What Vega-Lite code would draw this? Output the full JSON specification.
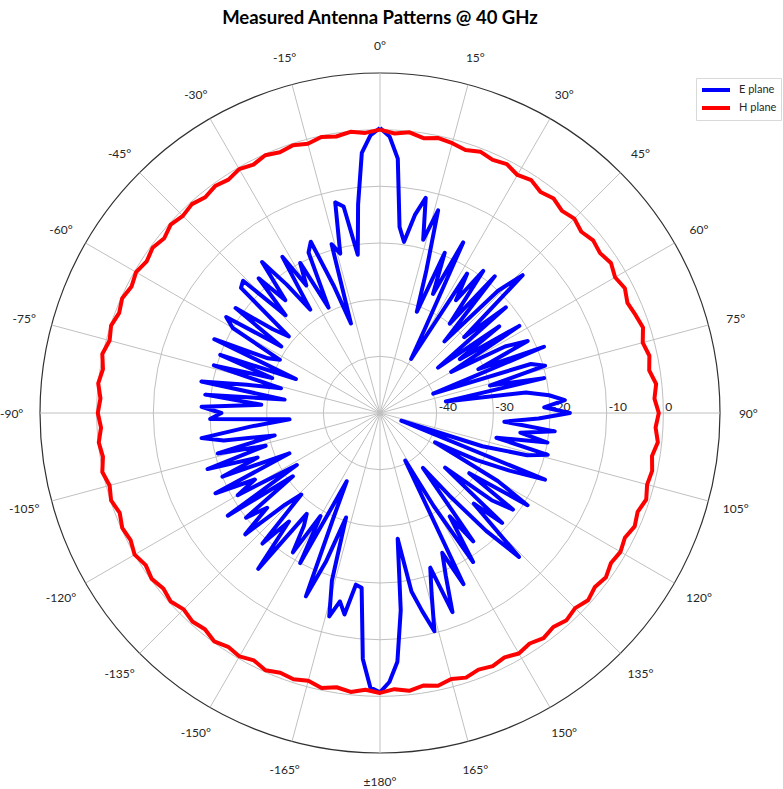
{
  "$schema": "https://vega.github.io/schema/vega-lite/v6.json",
  "width": 748,
  "height": 748,
  "autosize": {"type": "none"},
  "padding": {"left": 6, "top": 39, "right": 29, "bottom": 2},
  "background": "white",
  "title": {"text": "Measured Antenna Patterns @ 40 GHz", "font": "Lato", "fontSize": 18.5, "fontWeight": "bold", "color": "#000000", "offset": 12, "anchor": "middle"},
  "config": {"view": {"stroke": null}},
  "datasets": {
    "E": [
      {"a":0,"db":0.3},{"a":2,"db":-1.2},{"a":4,"db":-5},{"a":6,"db":-17},{"a":8,"db":-19.5},{"a":10,"db":-14.5},{"a":12,"db":-11.2},{"a":14,"db":-18.5},{"a":16,"db":-12.8},{"a":18,"db":-23.5},
      {"a":20,"db":-31},{"a":22,"db":-19.5},{"a":24,"db":-27},{"a":26,"db":-16.5},{"a":28,"db":-33},{"a":30,"db":-39},{"a":32,"db":-21},{"a":34,"db":-26},{"a":36,"db":-19},{"a":38,"db":-30},
      {"a":40,"db":-18.5},{"a":42,"db":-33},{"a":44,"db":-20},{"a":46,"db":-15},{"a":48,"db":-30},{"a":50,"db":-21},{"a":52,"db":-37},{"a":54,"db":-24},{"a":56,"db":-33},{"a":58,"db":-21},
      {"a":60,"db":-35.5},{"a":62,"db":-25},{"a":64,"db":-21},{"a":66,"db":-31},{"a":68,"db":-18.8},{"a":70,"db":-40},{"a":72,"db":-22},{"a":74,"db":-19.7},{"a":76,"db":-30},{"a":78,"db":-20.4},
      {"a":80,"db":-38.2},{"a":82,"db":-24},{"a":84,"db":-20},{"a":86,"db":-17.3},{"a":88,"db":-21},{"a":90,"db":-16.5},{"a":92,"db":-22},{"a":94,"db":-28},{"a":96,"db":-19},{"a":98,"db":-25},
      {"a":100,"db":-20},{"a":102,"db":-29},{"a":104,"db":-19.5},{"a":106,"db":-23},{"a":108,"db":-31},{"a":110,"db":-46},{"a":112,"db":-18.6},{"a":114,"db":-25},{"a":116,"db":-31},{"a":118,"db":-39},
      {"a":120,"db":-26},{"a":122,"db":-19.3},{"a":124,"db":-31},{"a":126,"db":-21},{"a":128,"db":-25},{"a":130,"db":-35},{"a":132,"db":-21},{"a":134,"db":-27},{"a":136,"db":-14.7},{"a":138,"db":-22},
      {"a":140,"db":-31},{"a":142,"db":-37.7},{"a":144,"db":-22},{"a":146,"db":-28},{"a":148,"db":-19},{"a":150,"db":-31},{"a":152,"db":-40.5},{"a":154,"db":-16.4},{"a":156,"db":-23},{"a":158,"db":-19},
      {"a":160,"db":-12.6},{"a":162,"db":-21.3},{"a":164,"db":-17},{"a":166,"db":-10.3},{"a":168,"db":-14.3},{"a":170,"db":-18},{"a":172,"db":-27.6},{"a":174,"db":-15},{"a":176,"db":-6},{"a":178,"db":-2.5},
      {"a":180,"db":-0.7},{"a":182,"db":-1.5},{"a":184,"db":-6.5},{"a":186,"db":-19},{"a":188,"db":-19.4},{"a":190,"db":-13.9},{"a":192,"db":-16},{"a":194,"db":-13},{"a":196,"db":-19.2},{"a":198,"db":-30.6},
      {"a":200,"db":-22},{"a":202,"db":-15.1},{"a":204,"db":-30},{"a":206,"db":-36.6},{"a":208,"db":-20},{"a":210,"db":-29},{"a":212,"db":-21},{"a":214,"db":-26},{"a":216,"db":-28},{"a":218,"db":-15.1},
      {"a":220,"db":-25},{"a":222,"db":-19},{"a":224,"db":-30},{"a":226,"db":-26.7},{"a":228,"db":-18},{"a":230,"db":-24},{"a":232,"db":-20},{"a":234,"db":-31},{"a":236,"db":-17.6},{"a":238,"db":-32.7},
      {"a":240,"db":-21},{"a":242,"db":-25},{"a":244,"db":-17.7},{"a":246,"db":-32.5},{"a":248,"db":-20},{"a":250,"db":-27},{"a":252,"db":-18},{"a":254,"db":-29},{"a":256,"db":-20.5},{"a":258,"db":-31},
      {"a":260,"db":-22},{"a":262,"db":-18.2},{"a":264,"db":-27},{"a":266,"db":-34},{"a":268,"db":-20},{"a":270,"db":-22},{"a":272,"db":-18.5},{"a":274,"db":-29},{"a":276,"db":-19},{"a":278,"db":-33},
      {"a":280,"db":-18},{"a":282,"db":-26},{"a":284,"db":-32},{"a":286,"db":-19.5},{"a":288,"db":-30},{"a":290,"db":-20},{"a":292,"db":-34},{"a":294,"db":-18},{"a":296,"db":-28},{"a":298,"db":-30},
      {"a":300,"db":-20},{"a":302,"db":-18},{"a":304,"db":-29},{"a":306,"db":-18.5},{"a":308,"db":-26},{"a":310,"db":-29},{"a":312,"db":-17},{"a":314,"db":-16.4},{"a":316,"db":-26},{"a":318,"db":-18},
      {"a":320,"db":-24},{"a":322,"db":-16.2},{"a":324,"db":-22},{"a":326,"db":-28},{"a":328,"db":-17.5},{"a":330,"db":-24},{"a":332,"db":-20},{"a":334,"db":-29.3},{"a":336,"db":-19},{"a":338,"db":-17.4},
      {"a":340,"db":-26},{"a":342,"db":-33.4},{"a":344,"db":-19},{"a":346,"db":-21},{"a":348,"db":-12},{"a":350,"db":-13},{"a":352,"db":-21.8},{"a":354,"db":-13},{"a":356,"db":-4},{"a":358,"db":-1},
      {"a":360,"db":0.3}
    ],
    "H": [
      {"a":0,"db":0.0},{"a":3,"db":-0.6},{"a":6,"db":-0.2},{"a":9,"db":-0.9},{"a":12,"db":-0.4},{"a":15,"db":-0.7},{"a":18,"db":-1.2},{"a":21,"db":-0.6},{"a":24,"db":-1.1},{"a":27,"db":-0.7},
      {"a":30,"db":-1.5},{"a":33,"db":-1.0},{"a":36,"db":-1.8},{"a":39,"db":-1.3},{"a":42,"db":-2.0},{"a":45,"db":-1.5},{"a":48,"db":-2.2},{"a":51,"db":-1.6},{"a":54,"db":-2.0},{"a":57,"db":-1.4},
      {"a":60,"db":-2.1},{"a":63,"db":-1.5},{"a":66,"db":-2.2},{"a":69,"db":-1.7},{"a":72,"db":-1.2},{"a":75,"db":-2.0},{"a":78,"db":-1.4},{"a":81,"db":-1.9},{"a":84,"db":-1.0},{"a":87,"db":-1.5},
      {"a":90,"db":-0.8},{"a":93,"db":-1.3},{"a":96,"db":-0.7},{"a":99,"db":-1.4},{"a":102,"db":-0.9},{"a":105,"db":-1.2},{"a":108,"db":-0.6},{"a":111,"db":-1.3},{"a":114,"db":-0.8},{"a":117,"db":-1.5},
      {"a":120,"db":-1.0},{"a":123,"db":-1.4},{"a":126,"db":-0.7},{"a":129,"db":-1.2},{"a":132,"db":-0.6},{"a":135,"db":-1.3},{"a":138,"db":-0.8},{"a":141,"db":-1.4},{"a":144,"db":-0.9},{"a":147,"db":-1.5},
      {"a":150,"db":-1.0},{"a":153,"db":-1.6},{"a":156,"db":-1.1},{"a":159,"db":-1.5},{"a":162,"db":-0.9},{"a":165,"db":-1.4},{"a":168,"db":-0.8},{"a":171,"db":-1.3},{"a":174,"db":-0.7},{"a":177,"db":-1.2},
      {"a":180,"db":-0.6},{"a":183,"db":-1.1},{"a":186,"db":-0.5},{"a":189,"db":-1.0},{"a":192,"db":-0.4},{"a":195,"db":-1.1},{"a":198,"db":-0.6},{"a":201,"db":-0.9},{"a":204,"db":-0.3},{"a":207,"db":-1.0},
      {"a":210,"db":-0.4},{"a":213,"db":-0.8},{"a":216,"db":-0.2},{"a":219,"db":-0.9},{"a":222,"db":-0.5},{"a":225,"db":-1.0},{"a":228,"db":-0.3},{"a":231,"db":-0.8},{"a":234,"db":-0.2},{"a":237,"db":-0.7},
      {"a":240,"db":0.0},{"a":243,"db":-0.6},{"a":246,"db":-0.2},{"a":249,"db":-0.8},{"a":252,"db":-0.1},{"a":255,"db":-0.6},{"a":258,"db":0.1},{"a":261,"db":-0.5},{"a":264,"db":-0.1},{"a":267,"db":-0.7},
      {"a":270,"db":-0.2},{"a":273,"db":-0.6},{"a":276,"db":0.0},{"a":279,"db":-0.5},{"a":282,"db":0.1},{"a":285,"db":-0.6},{"a":288,"db":-0.1},{"a":291,"db":-0.7},{"a":294,"db":-0.2},{"a":297,"db":-0.8},
      {"a":300,"db":-0.3},{"a":303,"db":-0.9},{"a":306,"db":-0.4},{"a":309,"db":-1.0},{"a":312,"db":-0.3},{"a":315,"db":-0.8},{"a":318,"db":-0.4},{"a":321,"db":-1.0},{"a":324,"db":-0.5},{"a":327,"db":-0.9},
      {"a":330,"db":-0.3},{"a":333,"db":-0.8},{"a":336,"db":-0.2},{"a":339,"db":-0.7},{"a":342,"db":-0.3},{"a":345,"db":-0.8},{"a":348,"db":-0.2},{"a":351,"db":-0.6},{"a":354,"db":-0.1},{"a":357,"db":-0.5},
      {"a":360,"db":0.0}
    ],
    "spokes": [
      {"a":0,"lab":"0°"},{"a":15,"lab":"15°"},{"a":30,"lab":"30°"},{"a":45,"lab":"45°"},{"a":60,"lab":"60°"},{"a":75,"lab":"75°"},{"a":90,"lab":"90°"},{"a":105,"lab":"105°"},{"a":120,"lab":"120°"},{"a":135,"lab":"135°"},{"a":150,"lab":"150°"},{"a":165,"lab":"165°"},{"a":180,"lab":"±180°"},
      {"a":-15,"lab":"-15°"},{"a":-30,"lab":"-30°"},{"a":-45,"lab":"-45°"},{"a":-60,"lab":"-60°"},{"a":-75,"lab":"-75°"},{"a":-90,"lab":"-90°"},{"a":-105,"lab":"-105°"},{"a":-120,"lab":"-120°"},{"a":-135,"lab":"-135°"},{"a":-150,"lab":"-150°"},{"a":-165,"lab":"-165°"}
    ],
    "rings": [
      {"db":-40,"lab":"-40","c":0},{"db":-30,"lab":"-30","c":0},{"db":-20,"lab":"-20","c":0},{"db":-10,"lab":"-10","c":0},{"db":0,"lab":"0","c":0}
    ],
    "outer": [{"db":10,"c":0}]
  },
  "layer": [
    {
      "data": {"name": "rings"},
      "transform": [{"calculate": "datum.db + 50", "as": "rr"}],
      "mark": {"type": "point", "shape": "circle", "filled": false, "stroke": "#c0c0c0", "strokeWidth": 1, "opacity": 1},
      "encoding": {
        "x": {"field": "c", "type": "quantitative", "scale": {"domain": [-66, 66], "nice": false, "zero": false}, "axis": null},
        "y": {"field": "c", "type": "quantitative", "scale": {"domain": [-66, 66], "nice": false, "zero": false}, "axis": null},
        "size": {"field": "rr", "type": "quantitative", "scale": {"type": "pow", "exponent": 2, "domain": [0, 66], "range": [0, 559504], "zero": true}, "legend": null}
      }
    },
    {
      "data": {"name": "outer"},
      "transform": [{"calculate": "datum.db + 50", "as": "rr"}],
      "mark": {"type": "point", "shape": "circle", "filled": false, "stroke": "#303030", "strokeWidth": 1.2, "opacity": 1},
      "encoding": {
        "x": {"field": "c", "type": "quantitative", "axis": null},
        "y": {"field": "c", "type": "quantitative", "axis": null},
        "size": {"field": "rr", "type": "quantitative", "legend": null}
      }
    },
    {
      "data": {"name": "spokes"},
      "transform": [
        {"calculate": "60*sin(datum.a*PI/180)", "as": "sx"},
        {"calculate": "60*cos(datum.a*PI/180)", "as": "sy"},
        {"calculate": "0", "as": "c"}
      ],
      "mark": {"type": "rule", "color": "#c0c0c0", "strokeWidth": 1},
      "encoding": {
        "x": {"field": "c", "type": "quantitative", "axis": null},
        "y": {"field": "c", "type": "quantitative", "axis": null},
        "x2": {"field": "sx"},
        "y2": {"field": "sy"}
      }
    },
    {
      "data": {"name": "spokes"},
      "transform": [
        {"calculate": "65*sin(datum.a*PI/180)", "as": "lx"},
        {"calculate": "65*cos(datum.a*PI/180)", "as": "ly"}
      ],
      "mark": {"type": "text", "font": "Lato", "fontSize": 12, "color": "#262626", "align": "center", "baseline": "middle", "dy": 1},
      "encoding": {
        "x": {"field": "lx", "type": "quantitative", "axis": null},
        "y": {"field": "ly", "type": "quantitative", "axis": null},
        "text": {"field": "lab", "type": "nominal"}
      }
    },
    {
      "data": {"name": "rings"},
      "transform": [{"calculate": "datum.db + 50", "as": "rr"}],
      "mark": {"type": "text", "font": "Lato", "fontSize": 12, "color": "#262626", "align": "left", "baseline": "middle", "dx": 2, "dy": -6},
      "encoding": {
        "x": {"field": "rr", "type": "quantitative", "axis": null},
        "y": {"field": "c", "type": "quantitative", "axis": null},
        "text": {"field": "lab", "type": "nominal"}
      }
    },
    {
      "data": {"name": "E"},
      "transform": [
        {"calculate": "(datum.db + 50)*sin(datum.a*PI/180)", "as": "px"},
        {"calculate": "(datum.db + 50)*cos(datum.a*PI/180)", "as": "py"},
        {"calculate": "'E plane'", "as": "s"}
      ],
      "mark": {"type": "line", "strokeWidth": 4, "strokeJoin": "round"},
      "encoding": {
        "x": {"field": "px", "type": "quantitative", "axis": null},
        "y": {"field": "py", "type": "quantitative", "axis": null},
        "order": {"field": "a", "type": "quantitative"},
        "color": {"field": "s", "type": "nominal", "scale": {"domain": ["E plane", "H plane"], "range": ["#0000ff", "#ff0000"]},
          "legend": {"orient": "none", "legendX": 690, "legendY": 39, "title": null, "strokeColor": "#d9d9d9", "fillColor": "white", "padding": 4, "symbolType": "stroke", "symbolStrokeWidth": 4, "symbolSize": 784, "clipHeight": 16, "labelFont": "Lato", "labelFontSize": 11, "labelColor": "#262626", "labelOffset": 7, "rowPadding": 2}}
      }
    },
    {
      "data": {"name": "H"},
      "transform": [
        {"calculate": "(datum.db + 50)*sin(datum.a*PI/180)", "as": "px"},
        {"calculate": "(datum.db + 50)*cos(datum.a*PI/180)", "as": "py"},
        {"calculate": "'H plane'", "as": "s"}
      ],
      "mark": {"type": "line", "strokeWidth": 4, "strokeJoin": "round"},
      "encoding": {
        "x": {"field": "px", "type": "quantitative", "axis": null},
        "y": {"field": "py", "type": "quantitative", "axis": null},
        "order": {"field": "a", "type": "quantitative"},
        "color": {"field": "s", "type": "nominal"}
      }
    }
  ]
}
